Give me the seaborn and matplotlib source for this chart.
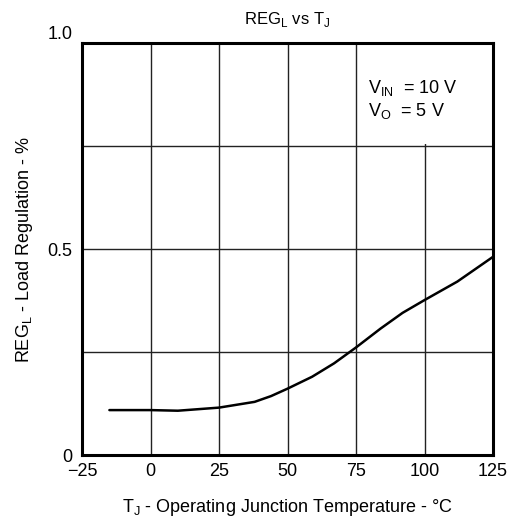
import matplotlib
matplotlib.use("Agg")
import matplotlib.pyplot as plt
import seaborn as sns
import pandas as pd

temp_c = [-15, 0, 10, 17, 25, 38, 44, 50, 59, 67, 75, 84, 92, 100, 112, 125]
reg_pct = [0.109, 0.109, 0.1075, 0.111, 0.115, 0.129, 0.143, 0.161, 0.19, 0.2225,
           0.261, 0.307, 0.345, 0.376, 0.421, 0.481]
x_ticks = [-25, 0, 25, 50, 75, 100, 125]
x_labels = ["\u221225", "0", "25", "50", "75", "100", "125"]
y_grid = [0, 0.25, 0.5, 0.75, 1.0]
y_labels = ["0", "", "0.5", "", "1.0"]

sns.set_theme(style="white")
plt.rcParams['font.family'] = ['Liberation Sans', 'DejaVu Sans']
plt.rcParams['mathtext.fontset'] = 'custom'
plt.rcParams['mathtext.rm'] = 'Liberation Sans'
plt.rcParams['text.color'] = 'black'
plt.rcParams['xtick.color'] = 'black'
plt.rcParams['ytick.color'] = 'black'
plt.rcParams['axes.labelcolor'] = 'black'

df = pd.DataFrame({"T": temp_c, "REG": reg_pct})

fig = plt.figure(figsize=(5.18, 5.23), dpi=100)
ax = fig.add_axes([82/518, 1 - 455/523, 411/518, 412/523])
sns.lineplot(data=df, x="T", y="REG", ax=ax, color="black", linewidth=1.8)

ax.set_xlim(-25, 125)
ax.set_ylim(0, 1.0)
ax.set_xticks(x_ticks)
ax.set_xticklabels(x_labels, fontsize=13)
ax.set_yticks(y_grid)
ax.set_yticklabels(y_labels, fontsize=13)
ax.tick_params(axis="x", length=0, pad=6)
ax.tick_params(axis="y", length=0, pad=7)
ax.yaxis.get_ticklabels()[-1].set_va("bottom")
ax.grid(True, color="#222222", linewidth=1.0)
for s in ax.spines.values():
    s.set_color("black")
    s.set_linewidth(2.2)

ax.set_xlabel(r"T$_\mathregular{J}$ - Operating Junction Temperature - °C", fontsize=13, labelpad=12)
ax.set_ylabel(r"REG$_\mathregular{L}$ - Load Regulation - %", fontsize=13, labelpad=9)
ax.set_title(r"REG$_\mathregular{L}$ vs T$_\mathregular{J}$", fontsize=12, pad=14)

ax.axvspan(85, 125, ymin=0.756, ymax=1.0, color="white", zorder=1, linewidth=0)
ax.text(79.5, 0.915, "V$_\\mathregular{IN}$  = 10 V\nV$_\\mathregular{O}$  = 5 V",
        fontsize=13, va="top", ha="left", linespacing=1.22, zorder=5)

fig.savefig("out.png", dpi=100)
